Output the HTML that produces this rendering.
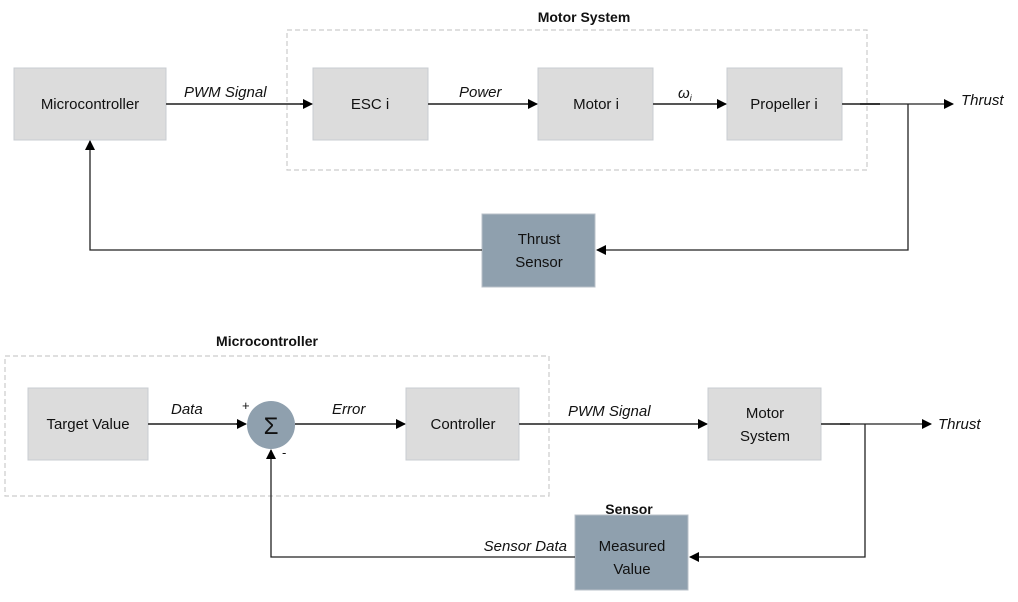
<!DOCTYPE html>
<html><head><meta charset="utf-8"><style>
html,body{margin:0;padding:0;background:#fff;}
svg{display:block;font-family:"Liberation Sans",sans-serif;}
.b{fill:#dcdcdc;stroke:#c8ccd2;stroke-width:1;}
.s{fill:#8fa0ae;stroke:#b8c0c8;stroke-width:1;}
.t{font-size:15px;fill:#111;text-anchor:middle;}
.i{font-size:15px;fill:#111;font-style:italic;}
.h{font-size:14px;font-weight:bold;fill:#111;text-anchor:middle;}
.l{stroke:#555;stroke-width:2;fill:none;}
.k{stroke:#222;stroke-width:1.3;fill:none;}
.d{fill:none;stroke:#ccc;stroke-width:1.2;stroke-dasharray:5,3;}
</style></head><body>
<svg width="1018" height="602" viewBox="0 0 1018 602">
<defs>
<marker id="a" markerWidth="10" markerHeight="10" refX="9" refY="5" orient="auto" markerUnits="userSpaceOnUse"><path d="M0,0 L10,5 L0,10 z" fill="#000"/></marker>
</defs>
<!-- top -->
<rect class="d" x="287" y="30" width="580" height="140"/>
<text class="h" x="584" y="22">Motor System</text>
<rect class="b" x="14" y="68" width="152" height="72"/>
<text class="t" x="90" y="109">Microcontroller</text>
<rect class="b" x="313" y="68" width="115" height="72"/>
<text class="t" x="370" y="109">ESC i</text>
<rect class="b" x="538" y="68" width="115" height="72"/>
<text class="t" x="596" y="109">Motor i</text>
<rect class="b" x="727" y="68" width="115" height="72"/>
<text class="t" x="784" y="109">Propeller i</text>
<line class="l" x1="166" y1="104" x2="304" y2="104"/><line class="k" x1="300" y1="104" x2="312" y2="104" marker-end="url(#a)"/>
<line class="l" x1="428" y1="104" x2="530" y2="104"/><line class="k" x1="528" y1="104" x2="537" y2="104" marker-end="url(#a)"/>
<line class="l" x1="653" y1="104" x2="720" y2="104"/><line class="k" x1="718" y1="104" x2="726" y2="104" marker-end="url(#a)"/>
<text class="i" x="184" y="97">PWM Signal</text>
<text class="i" x="459" y="97">Power</text>
<text class="i" x="678" y="98">ω<tspan font-size="9" dy="3">i</tspan></text>
<line class="l" x1="842" y1="104" x2="880" y2="104"/>
<line class="k" x1="860" y1="104" x2="953" y2="104" marker-end="url(#a)"/>
<text class="i" x="961" y="105">Thrust</text>
<polyline class="k" points="908,104 908,250 597,250" marker-end="url(#a)"/>
<rect class="s" x="482" y="214" width="113" height="73"/>
<text class="t" x="539" y="244">Thrust</text>
<text class="t" x="539" y="267">Sensor</text>
<polyline class="k" points="482,250 90,250 90,141" marker-end="url(#a)"/>
<!-- bottom -->
<rect class="d" x="5" y="356" width="544" height="140"/>
<text class="h" x="267" y="346">Microcontroller</text>
<rect class="b" x="28" y="388" width="120" height="72"/>
<text class="t" x="88" y="429">Target Value</text>
<line class="l" x1="148" y1="424" x2="240" y2="424"/><line class="k" x1="236" y1="424" x2="246" y2="424" marker-end="url(#a)"/>
<circle cx="271" cy="425" r="24" fill="#8fa0ae"/>
<text x="271" y="434" font-size="24" text-anchor="middle" fill="#111">Σ</text>
<text x="242" y="410" font-size="13" fill="#111">+</text>
<text x="282" y="457" font-size="13" fill="#111">-</text>
<text class="i" x="171" y="414">Data</text>
<line class="l" x1="295" y1="424" x2="398" y2="424"/><line class="k" x1="396" y1="424" x2="405" y2="424" marker-end="url(#a)"/>
<text class="i" x="332" y="414">Error</text>
<rect class="b" x="406" y="388" width="113" height="72"/>
<text class="t" x="463" y="429">Controller</text>
<line class="l" x1="519" y1="424" x2="700" y2="424"/><line class="k" x1="698" y1="424" x2="707" y2="424" marker-end="url(#a)"/>
<text class="i" x="568" y="416">PWM Signal</text>
<rect class="b" x="708" y="388" width="113" height="72"/>
<text class="t" x="765" y="418">Motor</text>
<text class="t" x="765" y="441">System</text>
<line class="l" x1="821" y1="424" x2="850" y2="424"/>
<line class="k" x1="840" y1="424" x2="931" y2="424" marker-end="url(#a)"/>
<text class="i" x="938" y="429">Thrust</text>
<polyline class="k" points="865,424 865,557 690,557" marker-end="url(#a)"/>
<text class="h" x="629" y="514">Sensor</text>
<rect class="s" x="575" y="515" width="113" height="75"/>
<text class="t" x="632" y="551">Measured</text>
<text class="t" x="632" y="574">Value</text>
<text class="i" x="567" y="551" text-anchor="end">Sensor Data</text>
<polyline class="k" points="575,557 271,557 271,450" marker-end="url(#a)"/>
</svg>
</body></html>
